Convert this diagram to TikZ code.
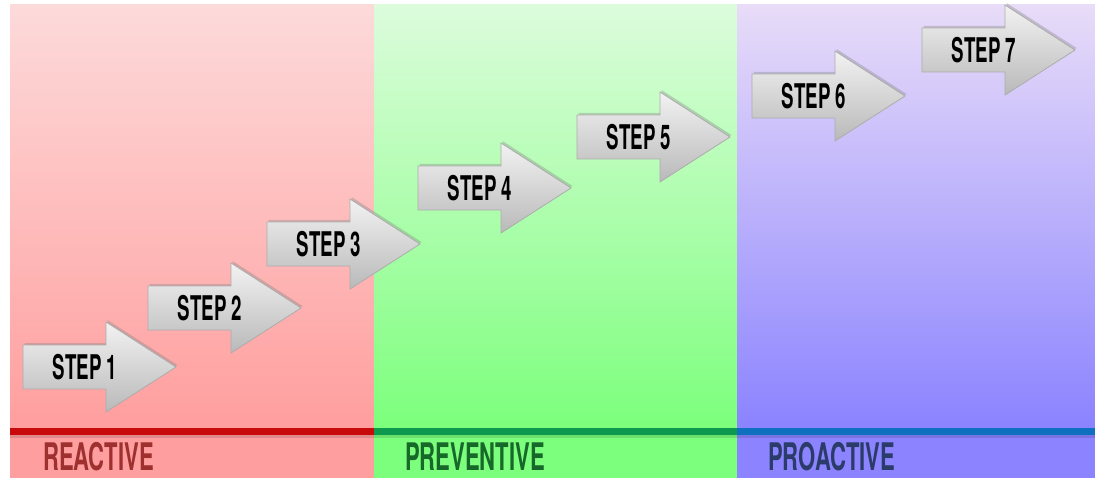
\documentclass[tikz,border=0pt]{standalone}
\usepackage{fontspec}
\newfontfamily\condfont{TeX Gyre Heros}[FakeStretch=0.55]
\newfontfamily\labelfont{TeX Gyre Heros}[FakeStretch=0.58]
\usetikzlibrary{shadows}
\definecolor{redtop}{HTML}{FDDADA}
\definecolor{redbot}{HTML}{FF9E9E}
\definecolor{greentop}{HTML}{DCFCDC}
\definecolor{greenbot}{HTML}{7CFF7C}
\definecolor{purptop}{HTML}{E8DCF8}
\definecolor{purpbot}{HTML}{8B83FF}
\definecolor{redline}{HTML}{C80A0A}
\definecolor{greenline}{HTML}{0E9A4E}
\definecolor{blueline}{HTML}{1070C0}
\definecolor{redtext}{HTML}{9E3030}
\definecolor{greentext}{HTML}{17692A}
\definecolor{bluetext}{HTML}{2C3C6A}
\tikzset{
  arrowbox/.style={top color=gray!10, bottom color=gray!55, draw=gray!65, line width=0.8pt,
    line join=miter, drop shadow={opacity=0.35, shadow xshift=1.5pt, shadow yshift=2pt}},
  steptext/.style={font=\condfont\bfseries\fontsize{34}{34}\selectfont, text=black, inner sep=0pt},
  phaselabel/.style={font=\labelfont\bfseries\fontsize{38}{38}\selectfont, inner sep=0pt, anchor=base west},
  baseline/.style={line width=7pt}
}
\newcommand\steparrow[4]{%
  \draw[arrowbox] (#2,#3-22) -- (#2+83,#3-22) -- (#2+83,#3-45) -- (#2+153,#3)
     -- (#2+83,#3+45) -- (#2+83,#3+22) -- (#2,#3+22) -- cycle;
  \node[steptext] (#1) at (#2+62,#3) {#4};
}
\begin{document}
\begin{tikzpicture}[x=1pt,y=-1pt]
\useasboundingbox (0,0) rectangle (1095,481);
\fill[white] (0,0) rectangle (1095,481);
% panels
\shade[top color=redtop, bottom color=redbot] (10,5) rectangle (374,428);
\fill[redbot] (10,428) rectangle (374,478);
\shade[top color=greentop, bottom color=greenbot] (374,5) rectangle (737,428);
\fill[greenbot] (374,428) rectangle (737,478);
\shade[top color=purptop, bottom color=purpbot] (737,5) rectangle (1095,428);
\fill[purpbot] (737,428) rectangle (1095,478);
% lines
\fill[black, opacity=0.12] (10,435) rectangle (1095,438);
\draw[baseline, redline] (10,431.5) -- (374,431.5);
\draw[baseline, greenline] (374,431.5) -- (737,431.5);
\draw[baseline, blueline] (737,431.5) -- (1095,431.5);
% labels
\node[phaselabel, text=redtext] (reactive) at (43,470) {REACTIVE};
\node[phaselabel, text=greentext] (preventive) at (405,470) {PREVENTIVE};
\node[phaselabel, text=bluetext] (proactive) at (768,470) {PROACTIVE};
% arrows
\steparrow{s1}{23}{367}{STEP 1}
\steparrow{s2}{148}{308}{STEP 2}
\steparrow{s3}{267}{244}{STEP 3}
\steparrow{s4}{418}{188}{STEP 4}
\steparrow{s5}{577}{137}{STEP 5}
\steparrow{s6}{752}{96}{STEP 6}
\steparrow{s7}{922}{50}{STEP 7}
\end{tikzpicture}
\end{document}
